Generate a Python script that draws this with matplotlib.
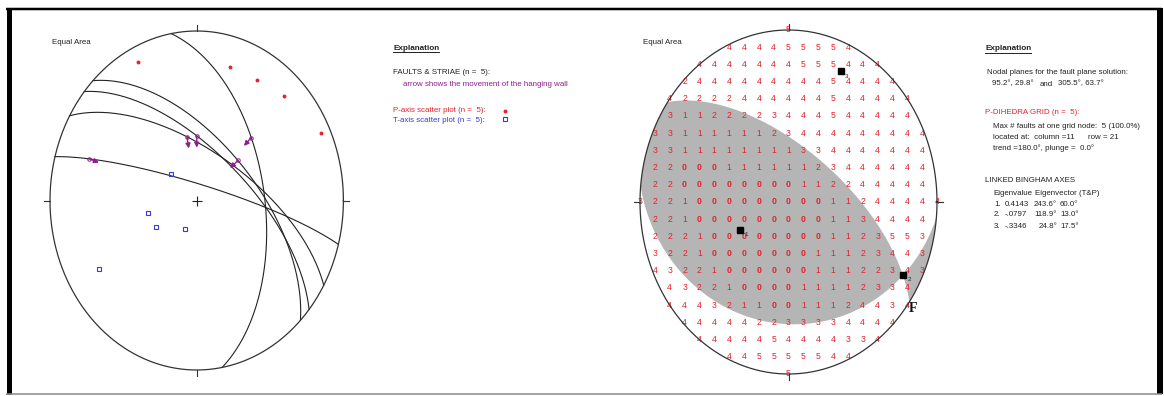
import numpy as np
import matplotlib.pyplot as plt
from matplotlib.lines import Line2D

plt.rcParams['font.family'] = ['Liberation Sans', 'DejaVu Sans']

W, H = 1164, 396

# fault planes (right-hand-rule strike, dip) and rake of the striae
fault_strike = [350, 315, 310, 300, 285]
fault_dip = [52, 60, 65, 65, 82]
striae_rake = [66.7, 92.5, 70.5, 70.5, 24.0]

# P and T axes (trend, plunge)
p_trend = [334, 16, 30, 44, 65]
p_plunge = [10, 19, 19, 15, 7]
t_trend = [312, 258, 241, 205, 239]
t_plunge = [71, 62, 64, 75, 23]

# fault plane solution
nodal_strike = [95.2, 305.5]
nodal_dip = [29.8, 63.7]

# linked Bingham axes
eig_value = ['0.4143', '-.0797', '-.3346']
eig_trend = [243.6, 118.9, 24.8]
eig_plunge = [60.0, 13.0, 17.5]

# P-dihedra counts, rows top to bottom, only nodes inside the net
grid_rows = [
    [5],
    [4, 4, 4, 4, 5, 5, 5, 5, 4],
    [4, 4, 4, 4, 4, 4, 4, 5, 5, 5, 4, 4, 4],
    [2, 4, 4, 4, 4, 4, 4, 4, 4, 4, 5, 4, 4, 4, 4],
    [4, 2, 2, 2, 2, 4, 4, 4, 4, 4, 4, 5, 4, 4, 4, 4, 4],
    [3, 1, 1, 2, 2, 2, 2, 3, 4, 4, 4, 5, 4, 4, 4, 4, 4],
    [3, 3, 1, 1, 1, 1, 1, 1, 2, 3, 4, 4, 4, 4, 4, 4, 4, 4, 4],
    [3, 3, 1, 1, 1, 1, 1, 1, 1, 1, 3, 3, 4, 4, 4, 4, 4, 4, 4],
    [2, 2, 0, 0, 0, 1, 1, 1, 1, 1, 1, 2, 3, 4, 4, 4, 4, 4, 4],
    [2, 2, 0, 0, 0, 0, 0, 0, 0, 0, 1, 1, 2, 2, 4, 4, 4, 4, 4],
    [3, 2, 2, 1, 0, 0, 0, 0, 0, 0, 0, 0, 0, 1, 1, 2, 4, 4, 4, 4, 4],
    [2, 2, 1, 0, 0, 0, 0, 0, 0, 0, 0, 0, 1, 1, 3, 4, 4, 4, 4],
    [2, 2, 2, 1, 0, 0, 0, 0, 0, 0, 0, 0, 1, 1, 2, 3, 5, 5, 3],
    [3, 2, 2, 1, 0, 0, 0, 0, 0, 0, 0, 1, 1, 1, 2, 3, 4, 4, 3],
    [4, 3, 2, 2, 1, 0, 0, 0, 0, 0, 0, 1, 1, 1, 2, 2, 3, 4, 3],
    [4, 3, 2, 2, 1, 0, 0, 0, 0, 1, 1, 1, 1, 2, 3, 3, 4],
    [4, 4, 4, 3, 2, 1, 1, 0, 0, 1, 1, 1, 2, 4, 4, 3, 4],
    [4, 4, 4, 4, 4, 2, 2, 3, 3, 3, 3, 4, 4, 4, 4],
    [4, 4, 4, 4, 4, 5, 4, 4, 4, 4, 3, 3, 4],
    [4, 4, 5, 5, 5, 5, 5, 4, 4],
    [5],
]

RED = '#e3222b'
BLUE = '#3a3ad8'
PURPLE = '#8c1f8c'
FS = 5.7


def vec(trend, plunge):
    tr, pl = np.radians(trend), np.radians(plunge)
    return np.array([np.sin(tr) * np.cos(pl), np.cos(tr) * np.cos(pl), np.sin(pl)])


def project(trend, plunge):
    # lower hemisphere equal-area (Schmidt) net, unit radius
    tr, pl = np.radians(trend), np.radians(plunge)
    r = np.sqrt(2) * np.sin((np.pi / 2 - pl) / 2)
    return r * np.sin(tr), r * np.cos(tr)


def project_vec(v):
    e, n, d = v
    return project(np.degrees(np.arctan2(e, n)), np.degrees(np.arcsin(np.clip(d, -1, 1))))


def plane_vectors(strike, dip):
    return vec(strike, 0), vec(strike + 90, dip)


def arc(strike, dip, t0=0.0, t1=np.pi, n=200):
    s, d = plane_vectors(strike, dip)
    t = np.linspace(t0, t1, n)
    v = np.outer(np.cos(t), s) + np.outer(np.sin(t), d)
    return project_vec(v.T)


def px(x, y):
    return x / W, 1 - y / H


fig = plt.figure(figsize=(W / 100, H / 100), dpi=100)


def stereonet(x0, y0, x1, y1):
    ax = fig.add_axes([x0 / W, 1 - y1 / H, (x1 - x0) / W, (y1 - y0) / H])
    ax.set_xlim(-1, 1)
    ax.set_ylim(-1, 1)
    ax.axis('off')
    th = np.linspace(0, 2 * np.pi, 500)
    ax.plot(np.cos(th), np.sin(th), color='#333333', lw=0.9, zorder=4, clip_on=False)
    for xs, ys in [([0, 0], [1, 1.035]), ([0, 0], [-1, -1.035]),
                   ([1, 1.04], [0, 0]), ([-1, -1.04], [0, 0])]:
        ax.plot(xs, ys, color='#333333', lw=0.8, zorder=4, clip_on=False)
    return ax


# ---- left: faults, striae, P and T axes ----
ax1 = stereonet(50, 31, 343.4, 370)
ax1.plot(0, 0, '+', color='#222222', ms=7, mew=0.8)
for s, d, rk in zip(fault_strike, fault_dip, striae_rake):
    x, y = arc(s, d)
    ax1.plot(x, y, color='#222222', lw=0.8, clip_on=False)
    sv, dv = plane_vectors(s, d)
    lx, ly = project_vec(np.cos(np.radians(rk)) * sv + np.sin(np.radians(rk)) * dv)
    r = np.hypot(lx, ly)
    ex, ey = lx - 0.07 * lx / r, ly - 0.07 * ly / r
    ax1.plot(lx, ly, 'o', mfc='none', mec=PURPLE, ms=2.5, mew=0.7)
    ax1.annotate('', xy=(ex, ey), xytext=(lx, ly),
                 arrowprops=dict(arrowstyle='-|>', color=PURPLE, lw=1.0,
                                 mutation_scale=7, shrinkA=0, shrinkB=0))
ptx, pty = project(np.array(p_trend), np.array(p_plunge))
ax1.plot(ptx, pty, 'o', color=RED, ms=2.8, mec='none')
ttx, tty = project(np.array(t_trend), np.array(t_plunge))
ax1.plot(ttx, tty, 's', mfc='none', mec=BLUE, ms=3.2, mew=0.8)

# ---- right: P-dihedra grid with fault plane solution ----
ax2 = stereonet(640, 30, 937, 374)
s1, d1 = plane_vectors(nodal_strike[0], nodal_dip[0])
s2, d2 = plane_vectors(nodal_strike[1], nodal_dip[1])
b = np.cross(np.cross(s1, d1), np.cross(s2, d2))
if b[2] < 0:
    b = -b
tb1 = np.arctan2(b @ d1, b @ s1)
tb2 = np.arctan2(b @ d2, b @ s2)

# quadrant left of the null axis
xa, ya = arc(nodal_strike[1], nodal_dip[1], 0, tb2)
xb, yb = arc(nodal_strike[0], nodal_dip[0], tb1, np.pi)
az = np.radians(np.linspace(nodal_strike[0] + 180, nodal_strike[1], 60))
ax2.fill(np.r_[xa, xb, np.sin(az)], np.r_[ya, yb, np.cos(az)], color='#b5b5b5', lw=0, zorder=1)

# opposite quadrant on the east rim
xa, ya = arc(nodal_strike[0], nodal_dip[0], 0, tb1)
xb, yb = arc(nodal_strike[1], nodal_dip[1], tb2, np.pi)
az = np.radians(np.linspace(nodal_strike[1] - 180, nodal_strike[0], 60))
ax2.fill(np.r_[xa, xb, np.sin(az)], np.r_[ya, yb, np.cos(az)], color='#b5b5b5', lw=0, zorder=1)

for i, row in enumerate(grid_rows):
    gy = (10 - i) / 10
    gxs = [(c - 10) / 10 for c in range(21) if ((c - 10) / 10) ** 2 + gy ** 2 <= 1 + 1e-6]
    for gx, val in zip(gxs, row):
        ax2.text(gx, gy, str(val), color=RED, fontsize=6.2, ha='center', va='center',
                 fontweight='bold' if val == 0 else 'normal', zorder=3, clip_on=False)

bx, by = project(np.array(eig_trend), np.array(eig_plunge))
for k in range(3):
    ax2.plot(bx[k], by[k], 's', color='black', ms=5, zorder=5)
    ax2.annotate(str(k + 1), (bx[k], by[k]), xytext=(3.2, -4.5), textcoords='offset points',
                 fontsize=4.5, color='#222222', zorder=5)

fig.text(*px(909, 308), 'F', family='Liberation Serif', fontweight='bold', fontsize=10,
         va='center', ha='left', color='#111111')

# ---- explanation texts ----
underlined = []


def label(x, y, s, color='#222222', **kw):
    return fig.text(*px(x, y), s, color=color, fontsize=kw.pop('size', FS), va='center', ha=kw.pop('ha', 'left'), **kw)


label(52, 42, 'Equal Area')
label(643, 43, 'Equal Area')
underlined.append(label(393, 48, 'Explanation', fontweight='bold', size=5.9))
label(393, 73, 'FAULTS & STRIAE (n =  5):')
label(403, 85, 'arrow shows the movement of the hanging wall', color=PURPLE)
label(393, 111, 'P-axis scatter plot (n =  5):', color=RED)
label(393, 120, 'T-axis scatter plot (n =  5):', color=BLUE)
fig.add_artist(Line2D([505 / W], [1 - 110.5 / H], marker='o', color=RED, ms=2.8, mec='none',
                      transform=fig.transFigure))
fig.add_artist(Line2D([504.5 / W], [1 - 119.5 / H], marker='s', mfc='none', mec=BLUE, ms=3.2,
                      mew=0.8, transform=fig.transFigure))

underlined.append(label(985, 49, 'Explanation', fontweight='bold', size=5.9))
label(987, 73, 'Nodal planes for the fault plane solution:')
label(992, 84, f'{nodal_strike[0]:.1f}°, {nodal_dip[0]:.1f}°')
label(1040, 84, 'and')
label(1058, 84, f'{nodal_strike[1]:.1f}°, {nodal_dip[1]:.1f}°')
label(985, 112, 'P-DIHEDRA GRID (n =  5):', color=RED)
label(993, 127, 'Max # faults at one grid node:  5 (100.0%)')
label(993, 137.5, 'located at:  column =11')
label(1088, 137.5, 'row = 21')
label(993, 148, 'trend =180.0°, plunge =  0.0°')
label(985, 180, 'LINKED BINGHAM AXES')
label(993, 193.5, 'Eigenvalue')
label(1035, 193.5, 'Eigenvector (T&P)')
for k in range(3):
    yy = 204 + 11 * k
    label(994, yy, f'{k + 1}.')
    label(1005, yy, eig_value[k])
    label(1057, yy, f'{eig_trend[k]:.1f}°', ha='right')
    label(1060, yy, f'{eig_plunge[k]:.1f}°')

fig.canvas.draw()
renderer = fig.canvas.get_renderer()
for t in underlined:
    bb = t.get_window_extent(renderer)
    fig.add_artist(Line2D([bb.x0 / W, bb.x1 / W], [(bb.y0 - 0.5) / H] * 2, color='#222222',
                          lw=0.7, transform=fig.transFigure))

# outer frame
for xs, ys, c, lw in [([8.5, 8.5], [8, 394], 'black', 5),
                      ([6, 1162], [9, 9], 'black', 2.5),
                      ([1160, 1160], [8, 394], 'black', 6),
                      ([6, 1162], [393.5, 393.5], '#888888', 1.5)]:
    fig.add_artist(Line2D([x / W for x in xs], [1 - y / H for y in ys], color=c, lw=lw * 0.72,
                          transform=fig.transFigure, solid_capstyle='butt'))

fig.savefig('out.png', dpi=100)
